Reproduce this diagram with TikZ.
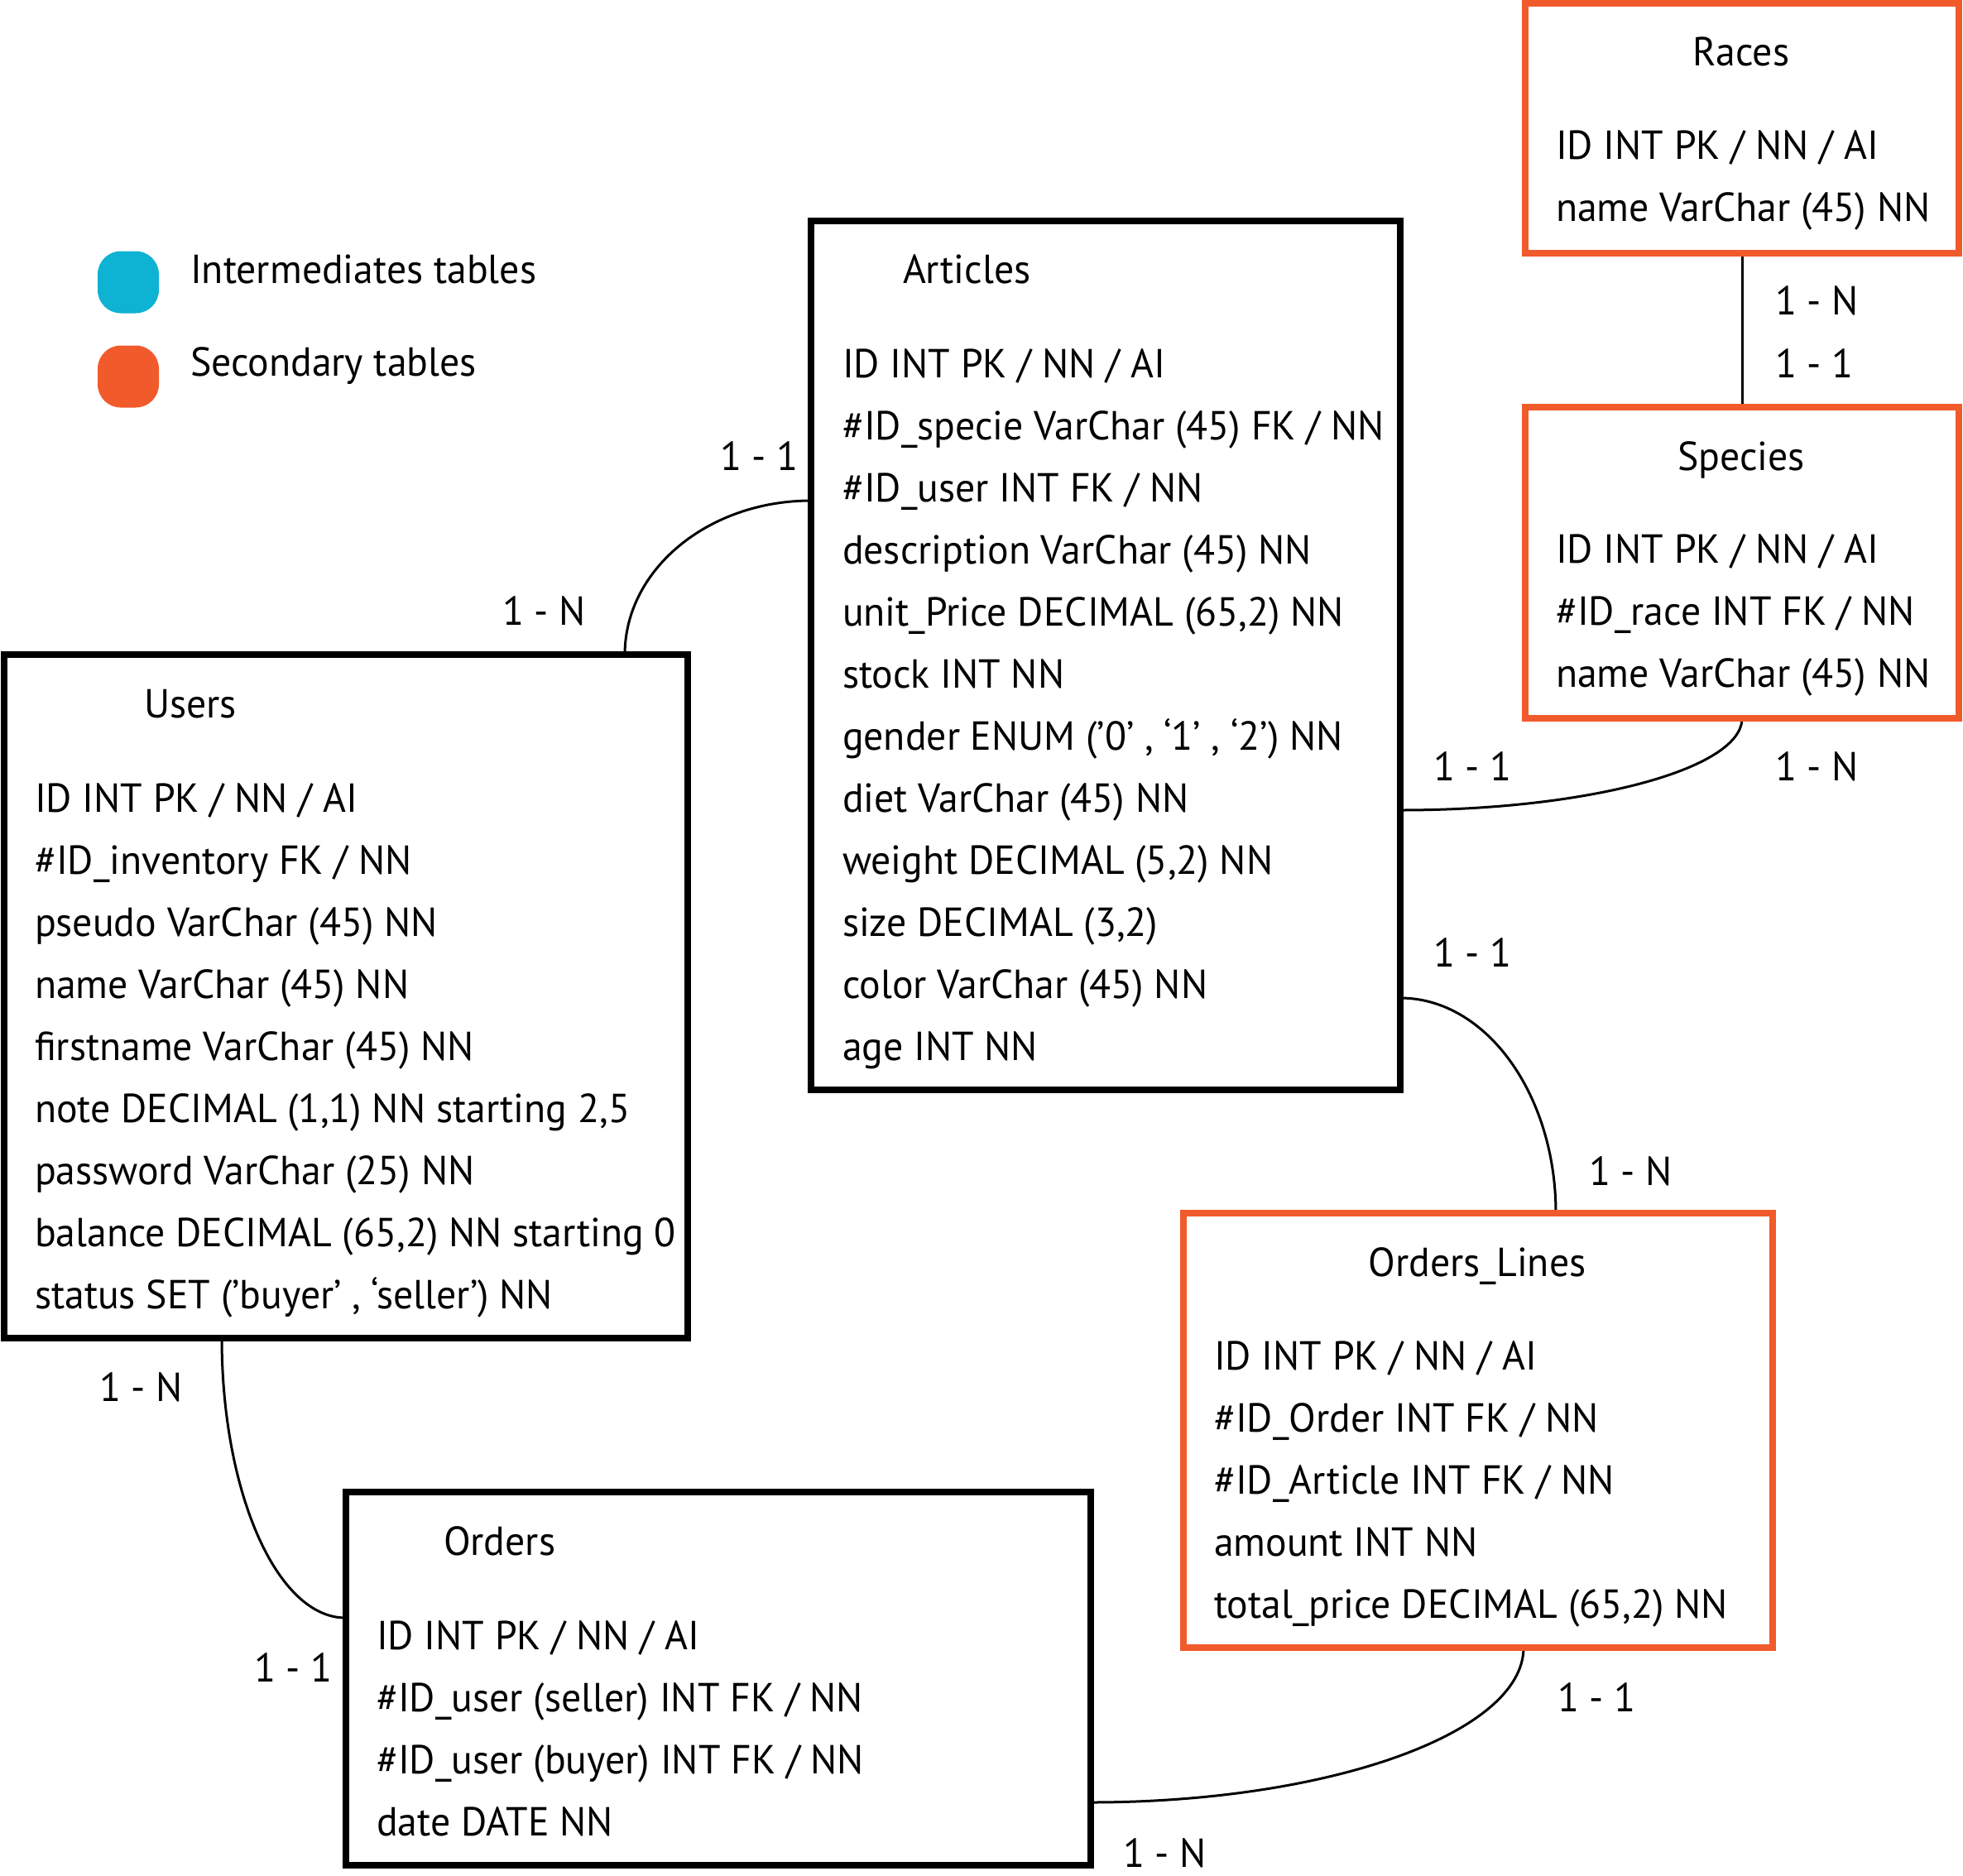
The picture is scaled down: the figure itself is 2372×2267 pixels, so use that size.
\documentclass[tikz,border=0pt]{standalone}
\usepackage{fontspec}
\setmainfont[FakeStretch=0.975]{PT Sans}
\usetikzlibrary{calc,backgrounds}
\definecolor{legblue}{RGB}{14,178,210}
\definecolor{secorange}{RGB}{241,90,43}
\begin{document}
\begin{tikzpicture}[x=1pt,y=-1pt,
  txt/.style={inner sep=0pt,outer sep=0pt,anchor=base west,font=\fontsize{49}{60}\selectfont},
  ttl/.style={txt,anchor=base},
  tbl/.style={draw=black,line width=8pt,inner sep=0pt,outer sep=0pt,rectangle},
  sec/.style={tbl,draw=secorange},
  conn/.style={draw=black,line width=3pt},
  swatch/.style={inner sep=0pt,outer sep=0pt,minimum width=74pt,minimum height=75pt,rounded corners=28pt,draw=none}
]
\useasboundingbox (0,0) rectangle (2372,2267);

% legend
\node[swatch,fill=legblue] (swb) at (155,341) {};
\node[swatch,fill=secorange] (swo) at (155,455) {};
\node[txt] (legb) at (230,342) {Intermediates tables};
\node[txt] (lego) at (230,454) {Secondary tables};

% boxes
\node[sec,minimum width=524pt,minimum height=301pt] (races) at (2105,155) {};
\node[sec,minimum width=524pt,minimum height=376pt] (species) at (2105,680) {};
\node[tbl,minimum width=712pt,minimum height=1050pt] (articles) at (1336,792) {};
\node[tbl,minimum width=826pt,minimum height=826pt] (users) at (417.5,1204) {};
\node[tbl,minimum width=900pt,minimum height=451pt] (orders) at (867.5,2028.5) {};
\node[sec,minimum width=712pt,minimum height=525pt] (ol) at (1786,1728.5) {};

% connectors
\begin{scope}[on background layer]
\draw[conn] ($(users.north west)+(750.5,0)$) .. controls +(0,-103) and +(-124,0) .. ($(articles.north west)+(0,338)$);
\draw[conn] ($(articles.north east)+(0,712)$) .. controls +(228,0) and +(0,61) .. (species.south);
\draw[conn] ($(articles.north east)+(0,939)$) .. controls +(104,0) and +(0,-143) .. ($(ol.north west)+(450,0)$);
\draw[conn] ($(users.south west)+(263.5,0)$) .. controls +(0,186) and +(-83,0) .. ($(orders.north west)+(0,152)$);
\draw[conn] ($(orders.north east)+(0,375)$) .. controls +(289,0) and +(0,103) .. ($(ol.south west)+(411,0)$);
\draw[conn] (races.south) -- (species.north);
\end{scope}

% Races
\node[ttl] (racest) at (2104,80) {Races};
\node[txt] (race1) at (1880,192) {ID INT PK / NN / AI};
\node[txt] (race2) at (1880,267) {name VarChar (45) NN};

% Species
\node[ttl] (spect) at (2104,568) {Species};
\node[txt] (spec1) at (1880,680) {ID INT PK / NN / AI};
\node[txt] (spec2) at (1880,755) {\#ID\_race INT FK / NN};
\node[txt] (spec3) at (1880,830) {name VarChar (45) NN};

% Articles
\node[txt] (artt) at (1091,342) {Articles};
\node[txt] (art1) at (1018,456) {ID INT PK / NN / AI};
\node[txt] (art2) at (1018,531) {\#ID\_specie VarChar (45) FK / NN};
\node[txt] (art3) at (1018,606) {\#ID\_user INT FK / NN};
\node[txt] (art4) at (1018,681) {description VarChar (45) NN};
\node[txt] (art5) at (1018,756) {unit\_Price DECIMAL (65,2) NN};
\node[txt] (art6) at (1018,831) {stock INT NN};
\node[txt] (art7) at (1018,906) {gender ENUM (’0’ , ‘1’ , ‘2’) NN};
\node[txt] (art8) at (1018,981) {diet VarChar (45) NN};
\node[txt] (art9) at (1018,1056) {weight DECIMAL (5,2) NN};
\node[txt] (art10) at (1018,1131) {size DECIMAL (3,2)};
\node[txt] (art11) at (1018,1206) {color VarChar (45) NN};
\node[txt] (art12) at (1018,1281) {age INT NN};

% Users
\node[txt] (usrt) at (174,867) {Users};
\node[txt] (usr1) at (42,981) {ID INT PK / NN / AI};
\node[txt] (usr2) at (42,1056) {\#ID\_inventory FK / NN};
\node[txt] (usr3) at (42,1131) {pseudo VarChar (45) NN};
\node[txt] (usr4) at (42,1206) {name VarChar (45) NN};
\node[txt] (usr5) at (42,1281) {firstname VarChar (45) NN};
\node[txt] (usr6) at (42,1356) {note DECIMAL (1,1) NN starting 2,5};
\node[txt] (usr7) at (42,1431) {password VarChar (25) NN};
\node[txt] (usr8) at (42,1506) {balance DECIMAL (65,2) NN starting 0};
\node[txt] (usr9) at (42,1581) {status SET (’buyer’ , ‘seller’) NN};

% Orders
\node[txt] (ordt) at (536,1879) {Orders};
\node[txt] (ord1) at (455,1993) {ID INT PK / NN / AI};
\node[txt] (ord2) at (455,2068) {\#ID\_user (seller) INT FK / NN};
\node[txt] (ord3) at (455,2143) {\#ID\_user (buyer) INT FK / NN};
\node[txt] (ord4) at (455,2218) {date DATE NN};

% Orders_Lines
\node[ttl] (olt) at (1785,1542) {Orders\_Lines};
\node[txt] (ol1) at (1467,1655) {ID INT PK / NN / AI};
\node[txt] (ol2) at (1467,1730) {\#ID\_Order INT FK / NN};
\node[txt] (ol3) at (1467,1805) {\#ID\_Article INT FK / NN};
\node[txt] (ol4) at (1467,1880) {amount INT NN};
\node[txt] (ol5) at (1467,1955) {total\_price DECIMAL (65,2) NN};

% cardinalities
\node[txt] (l1) at (870,568) {1 - 1};
\node[txt] (l2) at (607,755) {1 - N};
\node[txt] (l3) at (2145,380) {1 - N};
\node[txt] (l4) at (2145,456) {1 - 1};
\node[txt] (l5) at (1732,943) {1 - 1};
\node[txt] (l6) at (2145,943) {1 - N};
\node[txt] (l7) at (1732,1168) {1 - 1};
\node[txt] (l8) at (1920,1432) {1 - N};
\node[txt] (l9) at (120,1693) {1 - N};
\node[txt] (l10) at (307,2032) {1 - 1};
\node[txt] (l11) at (1882,2068) {1 - 1};
\node[txt] (l12) at (1357,2256) {1 - N};
\end{tikzpicture}
\end{document}
